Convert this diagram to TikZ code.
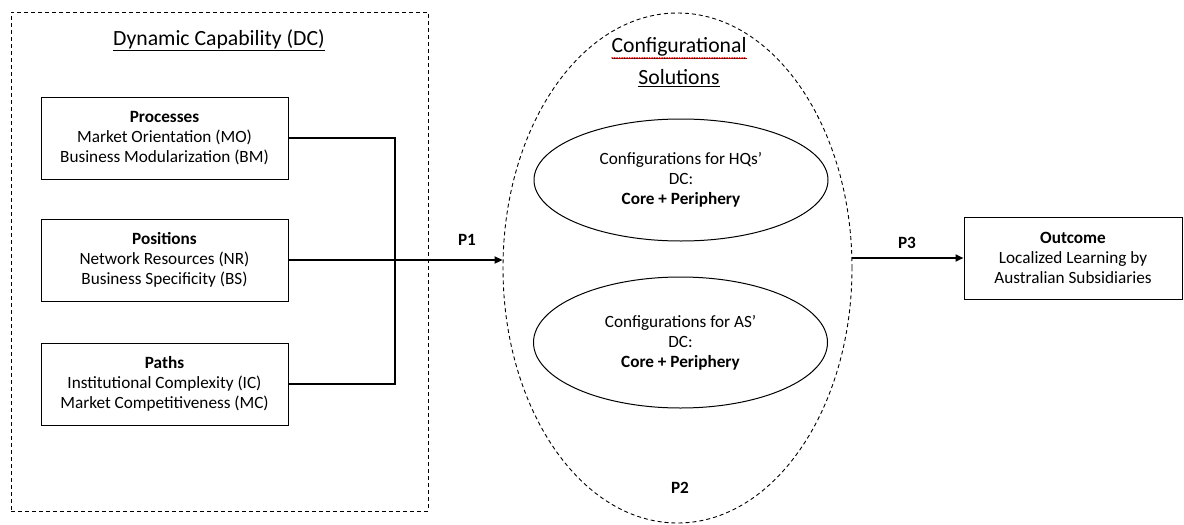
\documentclass[tikz,border=0pt]{standalone}
\usepackage{fontspec}
\setmainfont{Carlito}
\usetikzlibrary{positioning, shapes.geometric, arrows.meta, decorations.pathmorphing}

\begin{document}
\begin{tikzpicture}[
    x=1pt, y=-1pt,
    font=\fontsize{17.2}{20}\selectfont,
    dash-line/.style={dash pattern=on 4pt off 3pt, line width=0.9pt},
    dc-box/.style={draw, line width=1pt, minimum width=247pt, minimum height=82pt, align=center},
    cfg-ell/.style={draw, ellipse, line width=1pt, minimum width=294pt, minimum height=122pt, align=center},
    link/.style={line width=2pt},
    big-title/.style={font=\fontsize{21.7}{30}\selectfont, inner sep=0pt}
  ]
  \useasboundingbox (0,0) rectangle (1184,525);

  % left frame: dynamic capability
  \node[draw, dash-line, minimum width=417pt, minimum height=499pt] (dc) at (219.5,261.5) {};
  \node[big-title] (dc-title) at (219,40) {\underline{Dynamic Capability (DC)}};

  \node[dc-box] (proc) at (164.5,138) {\textbf{Processes}\\Market Orientation (MO)\\Business Modularization (BM)};
  \node[dc-box, below=39pt of proc] (pos) {\textbf{Positions}\\Network Resources (NR)\\Business Specificity (BS)};
  \node[dc-box, below=41pt of pos] (paths) {\textbf{Paths}\\Institutional Complexity (IC)\\Market Competitiveness (MC)};

  % middle: configurational solutions
  \node[draw, ellipse, dash-line, minimum width=349pt, minimum height=510pt] (conf) at (677.5,268) {};
  \node[big-title] (cfg-a) at (679,48) {\underline{Configurational}};
  \node[big-title] (cfg-b) at (679,78) {\underline{Solutions}};
  \draw[red, line width=0.6pt, decorate, decoration={snake, amplitude=0.6pt, segment length=2.5pt}]
    ([yshift=0.5pt]cfg-a.south west) -- ([yshift=0.5pt]cfg-a.south east);

  \node[cfg-ell] (hq) at (681,180) {Configurations for HQs’\\DC:\\\textbf{Core + Periphery}};
  \node[cfg-ell, minimum height=131pt] (as) at (680.5,342.5) {Configurations for AS’\\DC:\\\textbf{Core + Periphery}};

  % right: outcome
  \node[dc-box, minimum width=218pt] (out) at (1073,258) {\textbf{Outcome}\\Localized Learning by\\Australian Subsidiaries};

  % connectors
  \coordinate (bus) at (395,260);
  \draw[link] (proc.east) -- (proc.east -| bus) -- (paths.east -| bus) -- (paths.east);
  \draw[link, -{Triangle[length=8pt, width=7pt]}] (pos.east) -- (pos.east -| conf.west);
  \draw[link, -{Triangle[length=8pt, width=7pt]}] (out.west -| conf.east) -- (out.west);

  \node (p1) at (467,240) {\textbf{P1}};
  \node (p2) at (680,488) {\textbf{P2}};
  \node (p3) at (907,243) {\textbf{P3}};

\end{tikzpicture}
\end{document}
